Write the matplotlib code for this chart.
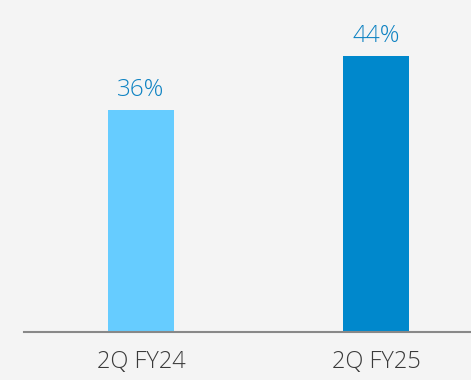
import matplotlib.pyplot as plt

categories = ["2Q FY24", "2Q FY25"]
values = [36, 44]
bar_colors = ["#66ccff", "#0088cc"]

plt.rcParams['font.family'] = ['Open Sans', 'DejaVu Sans']

fig = plt.figure(figsize=(4.71, 3.80), dpi=100, facecolor="#f4f4f4")
ax = fig.add_axes([0.051, 0.126, 0.949, 0.874])
ax.set_facecolor("#f4f4f4")

x = range(len(categories))
bars = ax.bar(x, values, width=0.28, color=bar_colors, zorder=2)

# value labels sit just above each bar
for rect, v in zip(bars, values):
    ax.annotate(f"{v}%", (rect.get_x() + rect.get_width() / 2, v),
                xytext=(0, 6), textcoords="offset points",
                ha="center", va="bottom", fontsize=17.5, color="#0d82c2",
                fontweight="light")

ax.set_xlim(-0.498, 1.404)
ax.set_ylim(3.1, 52.3)
ax.set_xticks(list(x))
ax.set_xticklabels(categories, fontsize=17, color="#3a3a3a", fontweight="light")
ax.tick_params(axis="x", length=0, pad=13)
ax.set_yticks([])

for side in ["top", "right", "left"]:
    ax.spines[side].set_visible(False)
ax.spines["bottom"].set_color("#888888")
ax.spines["bottom"].set_linewidth(1.5)
ax.spines["bottom"].set_zorder(3)

fig.savefig("out.png", dpi=100, facecolor=fig.get_facecolor())
